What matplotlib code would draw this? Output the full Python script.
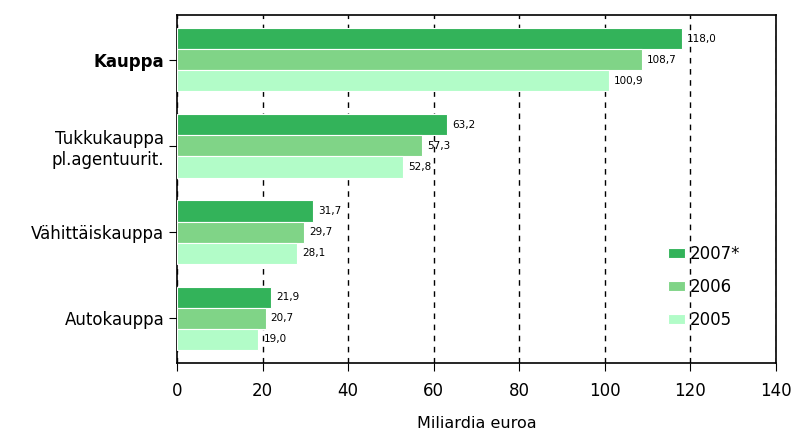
import numpy as np
import matplotlib.pyplot as plt

categories = ["Kauppa", "Tukkukauppa\npl.agentuurit.", "Vähittäiskauppa", "Autokauppa"]
years = ["2007*", "2006", "2005"]
v2007 = [118.0, 63.2, 31.7, 21.9]
v2006 = [108.7, 57.3, 29.7, 20.7]
v2005 = [100.9, 52.8, 28.1, 19.0]
colors = ["#33b35a", "#80d487", "#b2fcc8"]

fig = plt.figure(figsize=(7.95, 4.36), dpi=100)
ax = fig.add_axes([0.2226, 0.1674, 0.7535, 0.7982])

y = np.arange(len(categories))
h = 0.245
series = [v2007, v2006, v2005]
for i, vals in enumerate(series):
	pos = y + (i - 1) * h
	ax.barh(pos, vals, height=h, color=colors[i], edgecolor="white", linewidth=0.8,
		label=years[i], zorder=3)
	for p, v in zip(pos, vals):
		ax.text(v + 1.2, p, f"{v:.1f}".replace(".", ","), va="center", ha="left",
			fontsize=7.5, zorder=4)

ax.set_xlim(0, 140)
ax.set_ylim(3.52, -0.52)
ax.set_xticks(range(0, 141, 20))
ax.set_yticks(y)
ax.set_yticklabels(categories, fontsize=12)
ax.get_yticklabels()[0].set_fontweight("bold")
ax.tick_params(axis="x", labelsize=12, length=6, pad=8)
ax.tick_params(axis="y", length=6, pad=3)
ax.xaxis.grid(True, linestyle=(0, (4, 4)), color="black", linewidth=1, zorder=0)
ax.set_xlabel("Miliardia euroa", fontsize=11.5, labelpad=11)
for s in ax.spines.values():
	s.set_linewidth(1.2)

ax.legend(loc="lower right", bbox_to_anchor=(0.966, 0.055), frameon=False, fontsize=12,
	handlelength=1.0, handleheight=0.6, handletextpad=0.3, labelspacing=0.9)

fig.savefig("out.png", dpi=100)
